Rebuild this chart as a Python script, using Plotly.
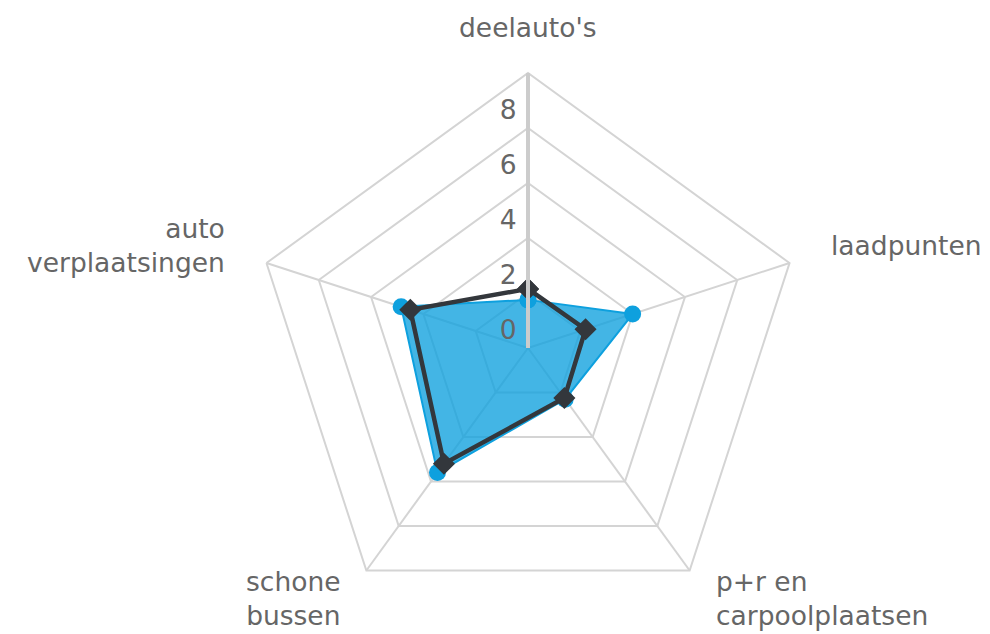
import math
import plotly.graph_objects as go

categories = ["deelauto's", "laadpunten", "p+r en<br>carpoolplaatsen", "schone<br>bussen", "auto<br>verplaatsingen"]
blue_values = [1.75, 4.0, 2.3, 5.6, 4.85]
dark_values = [2.15, 2.2, 2.25, 5.2, 4.5]
radial_ticks = [0, 2, 4, 6, 8]
radial_max = 10

def closed(v):
    return list(v) + [v[0]]

fig = go.Figure()
fig.add_trace(go.Scatterpolar(
    r=closed(blue_values), theta=closed(categories), mode="lines+markers",
    fill="toself", fillcolor="rgba(14,160,222,0.78)",
    line=dict(color="#0ea0de", width=2),
    marker=dict(symbol="circle", size=17, color="#0ea0de"),
    hoverinfo="skip", showlegend=False,
))
fig.add_trace(go.Scatterpolar(
    r=closed(dark_values), theta=closed(categories), mode="lines+markers",
    line=dict(color="#33373c", width=4.5),
    marker=dict(symbol="diamond", size=17, color="#33373c"),
    hoverinfo="skip", showlegend=False,
))

W, H = 990, 634
cx, cy, R = 528, 348, 275
label_gap = 41
label_lift = 5
FONT = dict(family="DejaVu Sans", size=26.5, color="#666666")

# category labels placed around the polygon (Highcharts-style: centred at radius + gap)
n = len(categories)
annotations = []
for i, lab in enumerate(categories):
    ang = 2 * math.pi * i / n
    dx, dy = math.sin(ang), -math.cos(ang)
    px = cx + (R + label_gap) * dx
    py = cy + (R + label_gap) * dy
    if abs(dx) < 0.1:
        xa = "center"
    elif dx > 0:
        xa = "left"
    else:
        xa = "right"
    annotations.append(dict(
        x=px / W, y=1 - py / H, xref="paper", yref="paper",
        text=lab, showarrow=False, xanchor=xa, yanchor="middle", align=xa,
        yshift=label_lift, font=FONT,
    ))

fig.update_layout(
    width=W, height=H, autosize=False,
    margin=dict(l=0, r=0, t=0, b=0, pad=0),
    paper_bgcolor="white", plot_bgcolor="white",
    font=FONT,
    annotations=annotations,
    polar=dict(
        domain=dict(x=[(cx - R) / W, (cx + R) / W], y=[(H - cy - R) / H, (H - cy + R) / H]),
        bgcolor="white",
        gridshape="linear",
        radialaxis=dict(
            range=[0, radial_max], tickvals=radial_ticks,
            ticktext=[f"{t}<br> " for t in radial_ticks],
            angle=90, tickangle=90, side="counterclockwise",
            showline=True, linecolor="#cccccc", linewidth=4,
            gridcolor="#d4d4d4", gridwidth=2, ticks="",
            tickfont=FONT,
        ),
        angularaxis=dict(
            direction="clockwise", rotation=90,
            showline=True, linecolor="#d4d4d4", linewidth=2,
            gridcolor="#d4d4d4", gridwidth=2,
            showticklabels=False, ticks="",
        ),
    ),
)
fig.write_html(
    "out.html",
    config={"displayModeBar": False},
    post_script="document.body.style.margin='0';document.body.style.overflow='hidden';",
)
